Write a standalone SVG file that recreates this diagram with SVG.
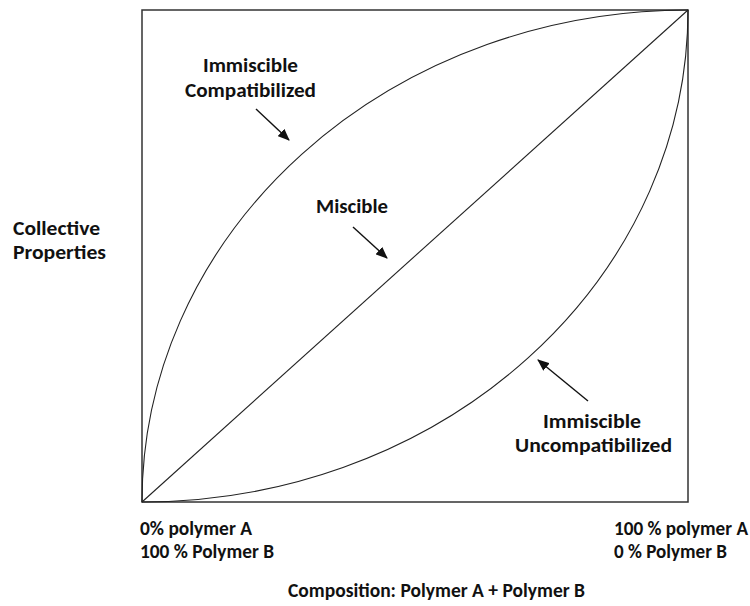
<svg xmlns="http://www.w3.org/2000/svg" width="750" height="606" viewBox="0 0 750 606">
<style>
.t{font-family:Carlito,Lato,"Liberation Sans",sans-serif;font-weight:bold;font-size:19.5px;fill:#111}
.c{stroke:#222;stroke-width:1.1;fill:none}
.a{stroke:#111;stroke-width:1.4;fill:none;marker-end:url(#ah)}
</style>
<defs>
<marker id="ah" viewBox="0 0 12 10" refX="11" refY="5" markerWidth="12" markerHeight="10" markerUnits="userSpaceOnUse" orient="auto">
<path d="M0,0 L12,5 L0,10 Z" fill="#111"/>
</marker>
</defs>
<rect width="750" height="606" fill="#fff"/>
<g id="frame">
<rect x="142" y="10" width="546" height="492" fill="none" stroke="#333" stroke-width="1.5"/>
</g>
<g id="curves">
<path id="compatibilized" class="c" d="M142,502 A546,492 0 0 1 688,10"/>
<path id="miscible" class="c" d="M142,502 L688,10"/>
<path id="uncompatibilized" class="c" d="M142,502 A546,492 0 0 0 688,10"/>
</g>
<g id="connectors">
<line class="a" x1="256" y1="109" x2="289" y2="140"/>
<line class="a" x1="353" y1="227" x2="387" y2="258"/>
<line class="a" x1="588" y1="401" x2="538" y2="360"/>
</g>
<g id="label-compatibilized">
<text class="t" x="203" y="72" textLength="95" lengthAdjust="spacingAndGlyphs">Immiscible</text>
<text class="t" x="185" y="97" textLength="131" lengthAdjust="spacingAndGlyphs">Compatibilized</text>
</g>
<g id="label-miscible">
<text class="t" x="316" y="213" textLength="72" lengthAdjust="spacingAndGlyphs">Miscible</text>
</g>
<g id="label-uncompatibilized">
<text class="t" x="543" y="428" textLength="98" lengthAdjust="spacingAndGlyphs">Immiscible</text>
<text class="t" x="515" y="452" textLength="157" lengthAdjust="spacingAndGlyphs">Uncompatibilized</text>
</g>
<g id="label-yaxis">
<text class="t" x="13" y="235" textLength="87" lengthAdjust="spacingAndGlyphs">Collective</text>
<text class="t" x="13" y="259" textLength="93" lengthAdjust="spacingAndGlyphs">Properties</text>
</g>
<g id="label-left">
<text class="t" x="140" y="535" textLength="112" lengthAdjust="spacingAndGlyphs">0% polymer A</text>
<text class="t" x="140" y="558" textLength="134" lengthAdjust="spacingAndGlyphs">100 % Polymer B</text>
</g>
<g id="label-right">
<text class="t" x="614" y="535" textLength="134" lengthAdjust="spacingAndGlyphs">100 % polymer A</text>
<text class="t" x="614" y="558" textLength="113" lengthAdjust="spacingAndGlyphs">0 % Polymer B</text>
</g>
<g id="label-xaxis">
<text class="t" x="288" y="597" textLength="297" lengthAdjust="spacingAndGlyphs">Composition: Polymer A + Polymer B</text>
</g>
</svg>
